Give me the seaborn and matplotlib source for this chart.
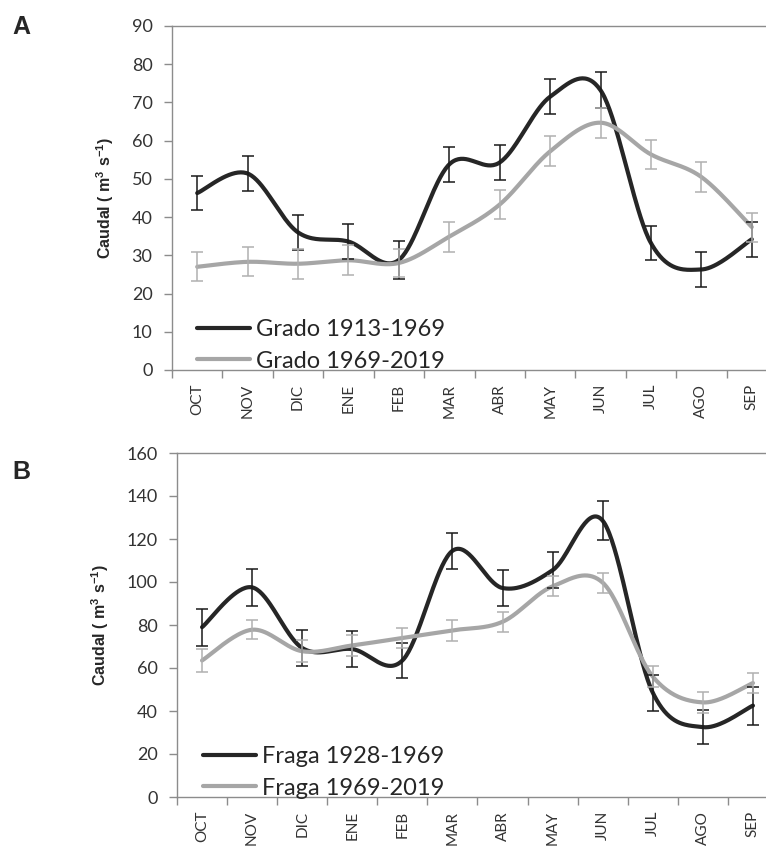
import numpy as np
import pandas as pd
import seaborn as sns
import matplotlib.pyplot as plt

meses = ['OCT', 'NOV', 'DIC', 'ENE', 'FEB', 'MAR', 'ABR', 'MAY', 'JUN', 'JUL', 'AGO', 'SEP']

# Panel A - Grado
grado_old = [46.3, 51.4, 36.0, 33.6, 28.8, 53.8, 54.3, 71.5, 73.2, 33.2, 26.3, 34.2]
grado_old_err = [4.5, 4.6, 4.5, 4.5, 5.0, 4.5, 4.6, 4.6, 4.7, 4.5, 4.5, 4.6]
grado_new = [27.0, 28.3, 27.8, 28.7, 28.0, 34.9, 43.3, 57.2, 64.7, 56.4, 50.5, 37.4]
grado_new_err = [3.8, 3.8, 3.9, 3.9, 3.7, 3.9, 3.9, 3.9, 3.9, 3.9, 3.8, 3.8]

# Panel B - Fraga
fraga_old = [79.0, 97.5, 69.3, 68.8, 63.5, 114.5, 97.2, 105.5, 128.5, 48.5, 32.5, 42.5]
fraga_old_err = [8.6, 8.6, 8.5, 8.5, 8.3, 8.5, 8.4, 8.3, 9.0, 8.3, 8.0, 8.8]
fraga_new = [63.5, 77.8, 67.8, 70.5, 74.0, 77.5, 81.5, 98.0, 99.7, 56.0, 44.0, 53.0]
fraga_new_err = [5.2, 4.5, 5.0, 5.0, 4.8, 4.8, 4.7, 4.6, 4.6, 4.7, 4.7, 4.7]

DARK = '#262626'
LIGHT = '#A6A6A6'
SPINE = '#8C8C8C'
TXT = '#333333'


def smooth(vals, n=40):
    # Excel-style smoothed line (Catmull-Rom Bezier through the points)
    P = np.column_stack([np.arange(len(vals)), np.asarray(vals, float)])
    E = np.vstack([P[0], P, P[-1]])
    t = np.linspace(0, 1, n)[:, None]
    parts = []
    for i in range(len(P) - 1):
        p0, p1, p2, p3 = E[i], E[i + 1], E[i + 2], E[i + 3]
        c1 = p1 + (p2 - p0) / 6
        c2 = p2 - (p3 - p1) / 6
        seg = (1 - t) ** 3 * p1 + 3 * (1 - t) ** 2 * t * c1 + 3 * (1 - t) * t ** 2 * c2 + t ** 3 * p2
        parts.append(seg if i == 0 else seg[1:])
    c = np.vstack(parts)
    return pd.DataFrame({'x': c[:, 0], 'y': c[:, 1]})


sns.set_style('white')
plt.rcParams['font.family'] = ['Lato', 'DejaVu Sans']
plt.rcParams['mathtext.fontset'] = 'custom'
plt.rcParams['mathtext.bf'] = 'Liberation Sans:bold'
plt.rcParams['mathtext.rm'] = 'Liberation Sans:bold'

W, H = 766, 849
fig = plt.figure(figsize=(W / 100, H / 100), dpi=100)


def panel(box, series, ymax, ystep, letter, letter_y, leg_x):
    l, t, r, b = box
    ax = fig.add_axes([l / W, 1 - b / H, (r - l) / W, (b - t) / H])
    x = np.arange(len(meses))
    for vals, err, col, ecol, lab in series:
        d = smooth(vals)
        sns.lineplot(data=d, x='x', y='y', sort=False, color=col, lw=3.0, ax=ax,
                     label=lab, solid_capstyle='round')
        ax.errorbar(x, vals, yerr=err, fmt='none', ecolor=ecol, elinewidth=1.1,
                    capsize=4, capthick=1.1, zorder=3)
    ax.set_xlim(-0.5, len(meses) - 0.5)
    ax.set_ylim(0, ymax)
    ax.set_yticks(np.arange(0, ymax + 1, ystep))
    ax.set_xticks(x)
    ax.set_xticklabels(meses, rotation=90, fontsize=11, color=TXT)
    ax.set_xticks(np.arange(-0.5, len(meses)), minor=True)
    ax.tick_params(axis='x', which='major', length=0, pad=10)
    ax.tick_params(axis='x', which='minor', length=6, width=1, color=SPINE, bottom=True)
    ax.tick_params(axis='y', length=6, width=1, color=SPINE, left=True, labelsize=13,
                   labelcolor=TXT, pad=8)
    for s in ax.spines.values():
        s.set_color(SPINE)
        s.set_linewidth(1)
    ax.set_xlabel('')
    ax.set_ylabel(r'Caudal ( m$^{\mathbf{3}}$ s$^{\mathbf{-1}}$)', fontsize=11.5,
                  fontweight='bold', family=['Liberation Sans', 'DejaVu Sans'], labelpad=11)
    ax.legend(loc='lower left', bbox_to_anchor=(leg_x, -0.005), frameon=False,
              fontsize=17, handlelength=2.25, handletextpad=0.25, labelspacing=0.45,
              borderpad=0, borderaxespad=0)
    fig.text(12 / W, 1 - letter_y / H, letter, fontsize=18, fontweight='bold',
             family=['Liberation Sans', 'DejaVu Sans'], va='top', ha='left')
    return ax


panel((172, 26, 777, 370),
      [(grado_old, grado_old_err, DARK, '#1A1A1A', 'Grado 1913-1969'),
       (grado_new, grado_new_err, LIGHT, '#B0B0B0', 'Grado 1969-2019')],
      90, 10, 'A', 15, 25 / 605)
panel((177, 453, 778, 797),
      [(fraga_old, fraga_old_err, DARK, '#1A1A1A', 'Fraga 1928-1969'),
       (fraga_new, fraga_new_err, LIGHT, '#B0B0B0', 'Fraga 1969-2019')],
      160, 20, 'B', 460, 26 / 601)

fig.savefig('out.png', dpi=100)
